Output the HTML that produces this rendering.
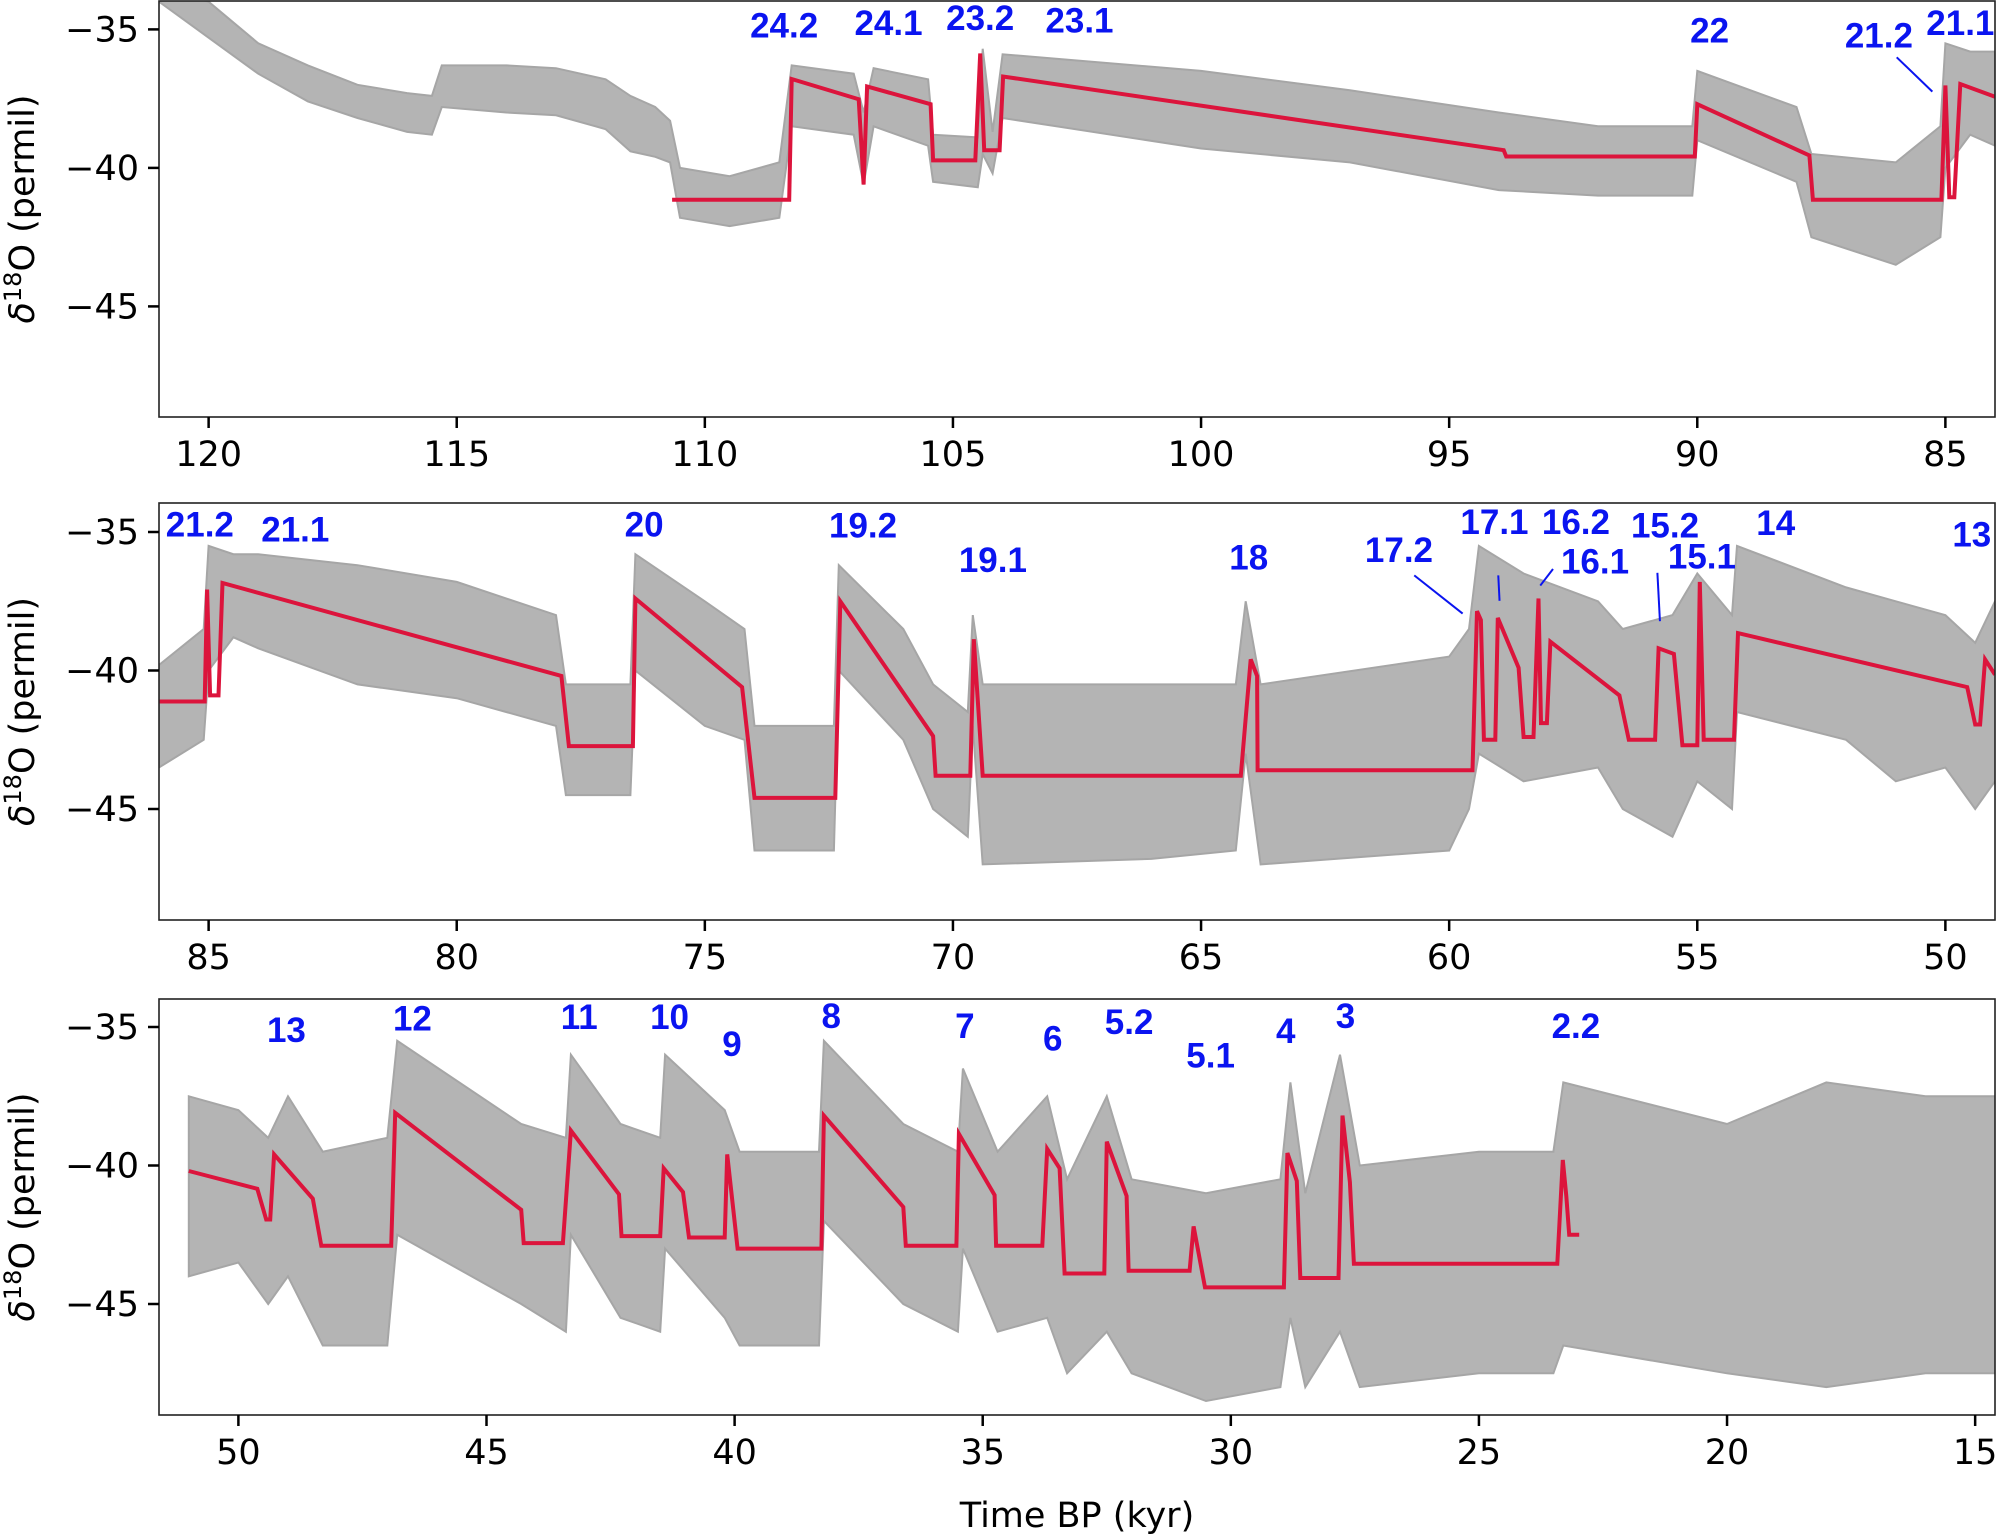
<!DOCTYPE html>
<html><head><meta charset="utf-8">
<style>
html,body{margin:0;padding:0;background:#fff;}
svg{display:block;font-family:"DejaVu Sans","Liberation Sans",sans-serif;}
.tick{font-size:35px;fill:#000;}
.lab{font-size:35px;font-weight:bold;fill:#0a14f0;font-family:"Liberation Sans",sans-serif;}
</style></head>
<body>
<svg id="chart" width="1996" height="1537" viewBox="0 0 1996 1537"></svg>
<script>
// ---- gray δ18O record envelope (time kyr, low, high) ----
const grayT = [121,120,119,118,117,116,115.5,115.3,114,113,112,111.5,111,110.7,110.5,109.5,108.5,108.25,107,106.8,106.6,105.5,105.4,104.5,104.4,104.2,104.0,100,97,94,92,90.1,90,88,87.7,86,85.1,85,84.5,84,82,80,78,77.8,76.5,76.4,75,74.2,74,72.4,72.3,71,70.4,69.7,69.6,69.4,66,64.3,64.1,63.8,60,59.6,59.4,58.5,57,56.5,55.5,55,54.3,54.2,52,51,50,49.4,49,48.3,47,46.8,44.3,43.4,43.3,42.3,41.5,41.4,40.2,39.9,38.3,38.2,36.6,35.5,35.4,34.7,33.7,33.3,32.5,32,30.5,29,28.8,28.5,27.8,27.4,25,23.5,23.3,20,18,16,14.5];
const grayLo = [-34.0,-35.3,-36.6,-37.6,-38.2,-38.7,-38.8,-37.8,-38.0,-38.1,-38.6,-39.4,-39.6,-39.8,-41.8,-42.1,-41.8,-38.5,-38.8,-40.6,-38.5,-39.2,-40.5,-40.7,-39.5,-40.2,-38.2,-39.3,-39.8,-40.8,-41.0,-41.0,-39.0,-40.5,-42.5,-43.5,-42.5,-40.0,-38.8,-39.2,-40.5,-41.0,-42.0,-44.5,-44.5,-40.0,-42.0,-42.5,-46.5,-46.5,-40.0,-42.5,-45,-46,-42,-47,-46.8,-46.5,-43,-47,-46.5,-45,-43,-44,-43.5,-45,-46,-44,-45,-41.5,-42.5,-44,-43.5,-45,-44,-46.5,-46.5,-42.5,-45,-46,-42.5,-45.5,-46,-43,-45.5,-46.5,-46.5,-42,-45,-46,-43,-46,-45.5,-47.5,-46,-47.5,-48.5,-48,-45.5,-48,-46,-48,-47.5,-47.5,-46.5,-47.5,-48,-47.5,-47.5];
const grayHi = [-33.5,-34.0,-35.5,-36.3,-37.0,-37.3,-37.4,-36.3,-36.3,-36.4,-36.8,-37.4,-37.8,-38.3,-40.0,-40.3,-39.8,-36.3,-36.6,-38.0,-36.4,-36.8,-38.8,-38.9,-35.7,-38.7,-35.9,-36.5,-37.2,-38.0,-38.5,-38.5,-36.5,-37.8,-39.5,-39.8,-38.5,-35.5,-35.8,-35.8,-36.2,-36.8,-38.0,-40.5,-40.5,-35.8,-37.5,-38.5,-42.0,-42.0,-36.2,-38.5,-40.5,-41.5,-38,-40.5,-40.5,-40.5,-37.5,-40.5,-39.5,-38.5,-35.5,-36.5,-37.5,-38.5,-38,-36.5,-38,-35.5,-37,-37.5,-38,-39,-37.5,-39.5,-39,-35.5,-38.5,-39,-36,-38.5,-39,-36,-38,-39.5,-39.5,-35.5,-38.5,-39.5,-36.5,-39.5,-37.5,-40.5,-37.5,-40.5,-41,-40.5,-37,-41,-36,-40,-39.5,-39.5,-37,-38.5,-37,-37.5,-37.5];
// ---- red piecewise fit ----
const fitT = [110.66,108.3,108.25,106.9,106.8,106.73,105.45,105.4,104.55,104.45,104.37,104.06,103.99,93.9,93.85,90.05,90.0,87.74,87.67,85.08,85.0,84.92,84.82,84.7,84.0,
 86.0,85.08,85.03,84.97,84.8,84.72,77.89,77.74,76.45,76.4,74.25,74.0,72.37,72.27,70.4,70.35,69.65,69.58,69.4,64.2,64.0,63.87,63.86,59.53,59.44,59.36,59.3,59.07,59.02,58.6,58.5,58.3,58.2,58.15,58.03,57.96,56.57,56.38,55.85,55.78,55.47,55.3,55.0,54.95,54.87,54.26,54.18,49.56,49.4,49.3,49.2,49.0,
 51.0,49.62,49.44,49.36,49.28,48.5,48.33,46.92,46.84,44.3,44.25,43.46,43.3,42.33,42.28,41.5,41.43,41.04,40.92,40.2,40.15,39.94,38.25,38.2,36.6,36.55,35.53,35.48,34.76,34.73,33.8,33.7,33.45,33.35,32.55,32.5,32.1,32.06,30.83,30.75,30.52,28.93,28.86,28.67,28.6,27.83,27.75,27.6,27.52,23.42,23.31,23.24,23.18,22.98];
const fitV = [-41.15,-41.15,-36.79,-37.52,-40.6,-37.06,-37.7,-39.73,-39.73,-35.87,-39.36,-39.36,-36.7,-39.36,-39.59,-39.59,-37.7,-39.55,-41.15,-41.15,-37.02,-41.06,-41.06,-36.97,-37.43,
 -41.12,-41.12,-37.08,-40.9,-40.9,-36.84,-40.2,-42.73,-42.73,-37.4,-40.6,-44.6,-44.6,-37.5,-42.37,-43.8,-43.8,-38.87,-43.8,-43.8,-39.6,-40.2,-43.6,-43.6,-37.86,-38.18,-42.5,-42.5,-38.1,-39.9,-42.4,-42.4,-37.4,-41.9,-41.9,-38.96,-40.9,-42.5,-42.5,-39.2,-39.4,-42.7,-42.7,-36.8,-42.5,-42.5,-38.65,-40.6,-41.95,-41.95,-39.6,-40.15,
 -40.2,-40.84,-41.95,-41.95,-39.6,-41.2,-42.9,-42.9,-38.1,-41.6,-42.8,-42.8,-38.74,-41.04,-42.55,-42.55,-40.1,-40.96,-42.6,-42.6,-39.6,-43.0,-43.0,-38.2,-41.5,-42.9,-42.9,-38.86,-41.07,-42.9,-42.9,-39.4,-40.1,-43.9,-43.9,-39.14,-41.1,-43.8,-43.8,-42.2,-44.4,-44.4,-39.55,-40.56,-44.06,-44.06,-38.2,-40.6,-43.55,-43.55,-39.8,-41.1,-42.5,-42.5];
const fitPanel = [0,0,0,0,0,0,0,0,0,0,0,0,0,0,0,0,0,0,0,0,0,0,0,0,0,
 1,1,1,1,1,1,1,1,1,1,1,1,1,1,1,1,1,1,1,1,1,1,1,1,1,1,1,1,1,1,1,1,1,1,1,1,1,1,1,1,1,1,1,1,1,1,1,1,1,1,1,1,
 2,2,2,2,2,2,2,2,2,2,2,2,2,2,2,2,2,2,2,2,2,2,2,2,2,2,2,2,2,2,2,2,2,2,2,2,2,2,2,2,2,2,2,2,2,2,2,2,2,2,2,2,2,2];
const xTicks = [[120,115,110,105,100,95,90,85],[85,80,75,70,65,60,55,50],[50,45,40,35,30,25,20,15]];
const yTicks = [-35,-40,-45];
const xLims = [[121.0,84.0],[86.0,49.0],[51.6,14.6]];

const NS='http://www.w3.org/2000/svg';
const svg=document.getElementById('chart');
function mk(tag,attrs,parent){const e=document.createElementNS(NS,tag);for(const k in attrs)e.setAttribute(k,attrs[k]);(parent||svg).appendChild(e);return e;}
const L=159,R=1995;
const panels=[{top:1,bot:417},{top:503,bot:920},{top:999,bot:1415}];
const y35=[29.4,532,1027];
const pxU=27.7;

panels.forEach((p,i)=>{
  const g=mk('g',{});
  
  
  const cid='clip'+i;
  const cp=mk('clipPath',{id:cid},g); mk('rect',{x:L,y:p.top,width:R-L,height:p.bot-p.top},cp);
  const xs=t=>L+(xLims[i][0]-t)/(xLims[i][0]-xLims[i][1])*(R-L);
  const ys=v=>y35[i]+(-35-v)*pxU;
  let ptsHi=[],ptsLo=[];
  for(let k=0;k<grayT.length;k++){const t=grayT[k];
    if(t>xLims[i][0]+1.2||t<xLims[i][1]-1.2)continue;
    if(i===2&&t>51.1)continue;
    ptsHi.push(xs(t).toFixed(1)+','+ys(grayHi[k]).toFixed(1));
    ptsLo.unshift(xs(t).toFixed(1)+','+ys(grayLo[k]).toFixed(1));}
  const band=mk('polygon',{points:ptsHi.concat(ptsLo).join(' '),fill:'#b4b4b4',stroke:'#a6a6a6','stroke-width':2,'clip-path':'url(#'+cid+')'},g);
  
  
  let rp=[];
  for(let k=0;k<fitT.length;k++){if(fitPanel[k]!==i)continue;rp.push(xs(fitT[k]).toFixed(1)+','+ys(fitV[k]).toFixed(1));}
  const fl=mk('polyline',{points:rp.join(' '),fill:'none',stroke:'#dc143c','stroke-width':4,'stroke-linejoin':'miter','clip-path':'url(#'+cid+')'},g);
  
  
  const fr=mk('rect',{x:L,y:p.top,width:R-L,height:p.bot-p.top,fill:'none',stroke:'#222','stroke-width':1.6},g);
  
  
  xTicks[i].forEach(t=>{const x=xs(t);
    mk('line',{x1:x,x2:x,y1:p.bot,y2:p.bot+11,stroke:'#000','stroke-width':2.5},g);
    const tx=mk('text',{x:x,y:p.bot+49,'text-anchor':'middle',class:'tick'},g);tx.textContent=t;
    
    });
  yTicks.forEach(v=>{const y=ys(v);
    mk('line',{x1:L-11,x2:L,y1:y,y2:y,stroke:'#000','stroke-width':2.5},g);
    const tx=mk('text',{x:L-20,y:y+12,'text-anchor':'end',class:'tick'},g);tx.textContent='\u2212'+Math.abs(v);
    
    });
  const yl=mk('text',{transform:'translate(34,'+((p.top+p.bot)/2)+') rotate(-90)','text-anchor':'middle',class:'tick'},g);
  yl.innerHTML='<tspan font-style="italic">\u03B4</tspan><tspan dy="-13" font-size="24">18</tspan><tspan dy="13">O (permil)</tspan>';
  
  
});
const xt=mk('text',{x:1077,y:1527,'text-anchor':'middle',class:'tick'});xt.textContent='Time BP (kyr)';



const labTxt=['24.2','24.1','23.2','23.1','22','21.2','21.1','21.2','21.1','20','19.2','19.1','18','17.2','17.1','16.2','16.1','15.2','15.1','14','13','13','12','11','10','9','8','7','6','5.2','5.1','4','3','2.2'];
const labX=[616,698,770,848,1343,1476,1540,157,232,506,678,780,981,1099,1174,1238,1253,1308,1337,1395,1549,225,324,455,526,575,653,758,827,887,951,1010,1057,1238];
const labY=[20,18,14,16,24,28,18,412,416,412,413,440,438,432,410,410,441,413,437,411,420,809,800,799,799,820,798,806,816,803,829,810,798,806];
const S=1996/1568;
labTxt.forEach((s,k)=>{const t=mk('text',{x:labX[k]*S,y:labY[k]*S+12,'text-anchor':'middle',class:'lab'});t.textContent=s;
  
  });
[[1490,45,1518,72],[1111,452,1149,482],[1177,452,1178,472],[1220,447,1210,460],[1302,450,1304,488]].forEach(a=>{
  const l=mk('line',{x1:a[0]*S,y1:a[1]*S,x2:a[2]*S,y2:a[3]*S,stroke:'#0a14f0','stroke-width':2});
  
  });
</script>
</body></html>
